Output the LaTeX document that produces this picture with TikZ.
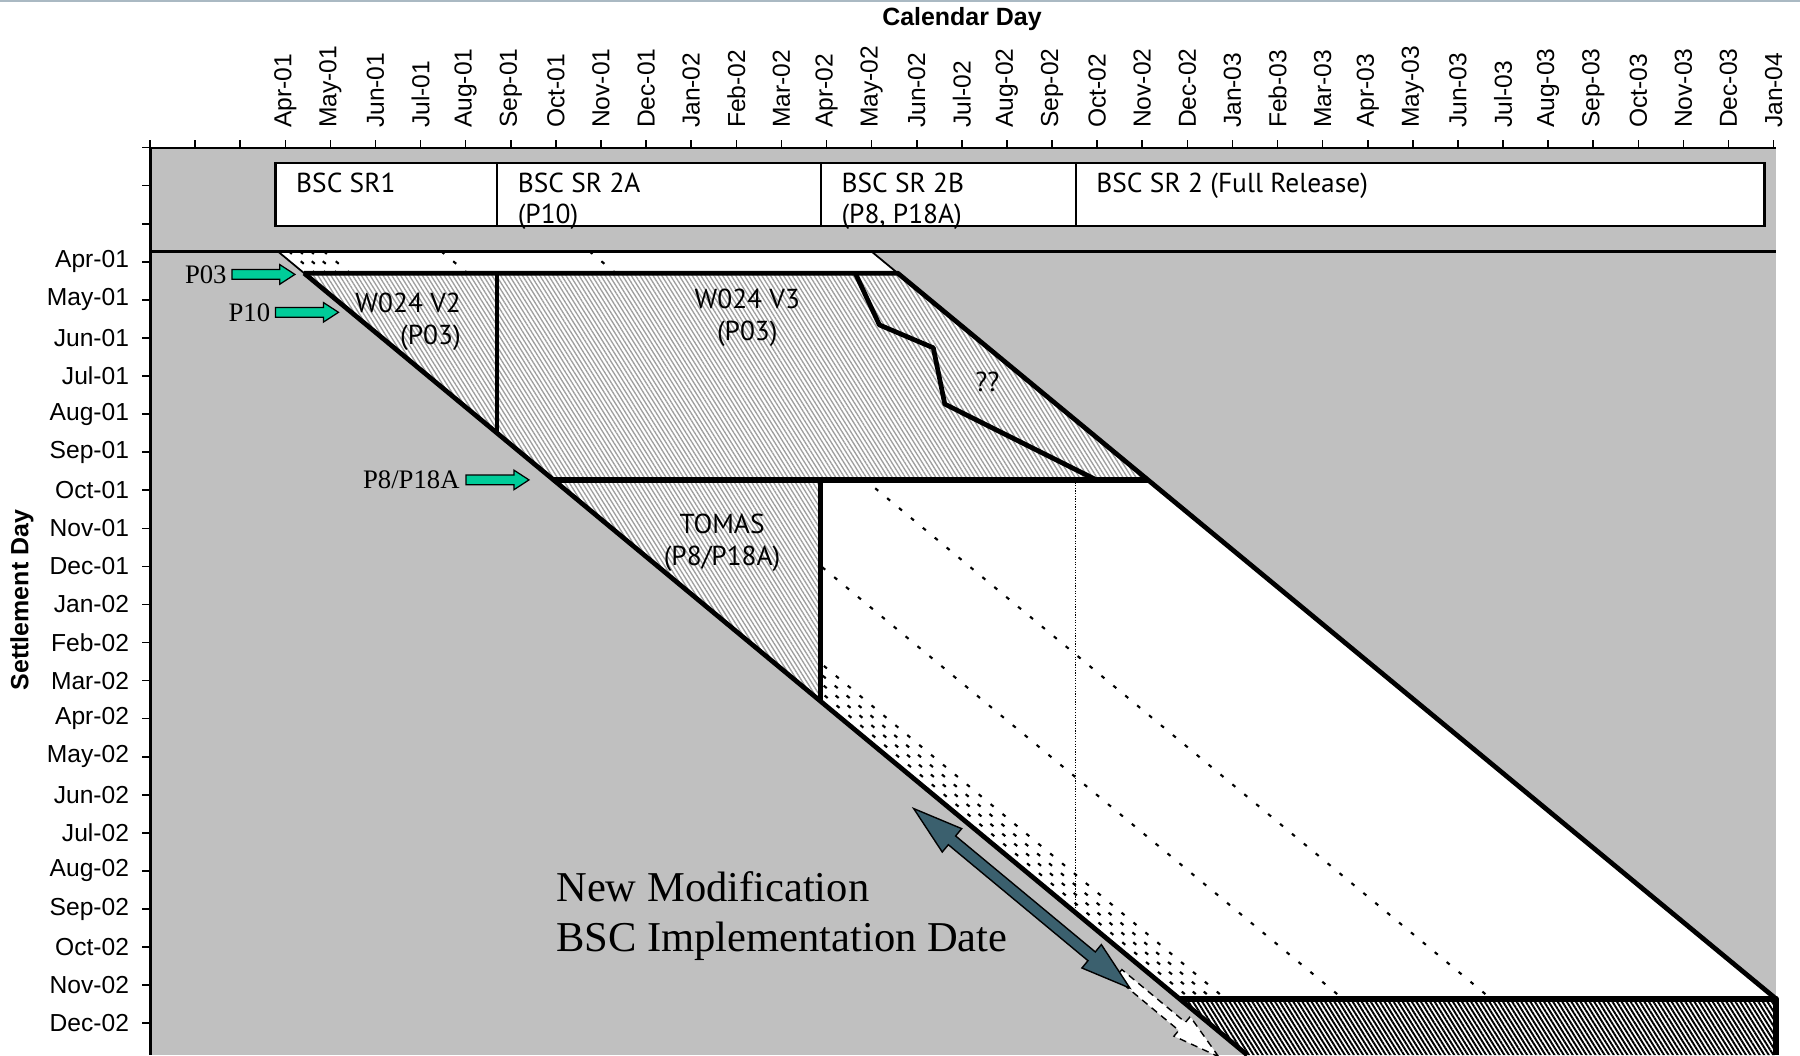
\documentclass[tikz,border=0pt]{standalone}
\usepackage{fontspec}
\setmainfont{Liberation Serif}
\setsansfont{Liberation Sans}
\newfontfamily\boxfont{PT Sans}
\usetikzlibrary{shapes.arrows,positioning,patterns.meta}

\definecolor{plotgray}{RGB}{192,192,192}
\definecolor{mintgreen}{RGB}{0,204,153}
\definecolor{slateblue}{RGB}{59,96,110}
\definecolor{framegray}{RGB}{170,185,195}

\tikzset{
  axislbl/.style={font=\sffamily\fontsize{7}{8.4}\selectfont, inner sep=0pt},
  axistitle/.style={font=\sffamily\bfseries\fontsize{7.1}{8.5}\selectfont, inner sep=0pt},
  hdrbox/.style={draw, fill=white, line width=0.6pt, minimum height=0.632cm, anchor=north west, outer sep=0pt, inner sep=0pt},
  boxlbl/.style={font=\boxfont\fontsize{7.8}{8.9}\selectfont, inner sep=0pt, align=left, anchor=north west},
  regionlbl/.style={font=\boxfont\fontsize{7.8}{9.1}\selectfont, inner sep=0pt},
  ptlbl/.style={font=\fontsize{7.6}{9}\selectfont, inner sep=0pt, anchor=east},
  bigtext/.style={font=\fontsize{12.1}{14.4}\selectfont, inner sep=0pt, align=left},
  bandline/.style={line width=1.35pt, line join=round},
  heavyline/.style={line width=1.7pt, line join=round},
  dotline/.style={line width=0.6pt, dash pattern=on 1.1pt off 3.3pt},
  finedots/.style={line width=0.35pt, dash pattern=on 0.35pt off 0.4pt},
  lighthatch/.style={fill=white, postaction={pattern={Lines[angle=122,distance=1.05pt,line width=0.38pt]}, pattern color=black!38}},
  darkhatch/.style={fill=white, postaction={pattern={Lines[angle=122,distance=1.1pt,line width=0.55pt]}, pattern color=black}},
  greenarr/.style={single arrow, draw=black, line width=0.35pt, fill=mintgreen, inner xsep=0pt, inner ysep=0.042cm,
    single arrow head extend=0.05cm, single arrow tip angle=66, minimum height=0.63cm, outer sep=0pt},
  shiftarrow/.style={double arrow, draw=black, line width=0.4pt, fill=slateblue, inner xsep=0pt, inner ysep=0.05cm,
    double arrow head extend=0.095cm, double arrow tip angle=34, minimum height=2.81cm, outer sep=0pt},
  ghostarrow/.style={single arrow, draw=black, line width=0.4pt, dash pattern=on 2pt off 1.5pt, fill=white, inner xsep=0pt,
    inner ysep=0.045cm, single arrow head extend=0.075cm, single arrow tip angle=30, minimum height=1.3cm, outer sep=0pt}
}

\begin{document}
\begin{tikzpicture}[x=1cm,y=-1cm]
    \useasboundingbox (0,0) rectangle (18,10.55);

    % frame line
    \draw[framegray, line width=0.7pt] (0,0.012) -- (18,0.012);

    % plot area
    \fill[plotgray] (1.504,1.481) rectangle (17.76,10.55);

    % release boxes
    \node[hdrbox, minimum width=2.216cm] (sr1) at (2.755,1.630) {};
    \node[hdrbox, minimum width=3.237cm] (sr2a) at (sr1.north east) {};
    \node[hdrbox, minimum width=2.549cm] (sr2b) at (sr2a.north east) {};
    \node[hdrbox, minimum width=6.888cm] (sr2) at (sr2b.north east) {};
    \node[boxlbl] (sr1lbl) at ([shift={(0.2,0.09)}]sr1.north west) {BSC SR1};
    \node[boxlbl] (sr2albl) at ([shift={(0.2,0.09)}]sr2a.north west) {BSC SR 2A\\(P10)};
    \node[boxlbl] (sr2blbl) at ([shift={(0.2,0.09)}]sr2b.north west) {BSC SR 2B\\(P8, P18A)};
    \node[boxlbl] (sr2lbl) at ([shift={(0.2,0.09)}]sr2.north west) {BSC SR 2 (Full Release)};

    % white band between the two diagonals
    \fill[white] (2.779,2.514) -- (8.714,2.514) -- (17.76,9.988) -- (11.795,9.988) -- cycle;

    % dotted runs parallel to the diagonal
    \foreach \o in {0.11,0.22,0.33,0.46,1.634,3.116}
        \draw[dotline] ({2.779+\o},2.514) -- ({11.795+\o},9.988);
    \draw[finedots] (10.757,4.799) -- (10.757,9.128);

    % hatched areas
    \path[lighthatch] (3.042,2.732) -- (4.971,2.732) -- (4.971,4.331) -- cycle;
    \path[lighthatch] (4.971,2.732) -- (8.978,2.732) -- (11.48,4.799) -- (5.535,4.799) -- (4.971,4.331) -- cycle;
    \path[lighthatch] (5.535,4.799) -- (8.208,4.799) -- (8.208,7.015) -- cycle;
    \path[darkhatch] (11.795,9.988) -- (17.76,9.988) -- (17.76,10.55) -- (12.473,10.55) -- cycle;

    % outlines
    \draw[line width=0.7pt] (1.504,2.514) -- (17.76,2.514);
    \draw[line width=0.5pt] (2.779,2.514) -- (3.042,2.732);
    \draw[line width=0.5pt] (8.714,2.514) -- (8.978,2.732);
    \draw[bandline] (3.042,2.732) -- (8.978,2.732) -- (17.76,9.988);
    \draw[bandline] (3.042,2.732) -- (12.473,10.55);
    \draw[bandline] (4.971,2.732) -- (4.971,4.331);
    \draw[heavyline] (5.535,4.799) -- (11.48,4.799);
    \draw[bandline] (8.208,4.799) -- (8.208,7.015);
    \draw[bandline] (8.553,2.732) -- (8.794,3.249) -- (9.333,3.478) -- (9.448,4.041) -- (10.963,4.799);
    \draw[heavyline] (11.795,9.988) -- (17.76,9.988) -- (17.76,10.55);

    % axes
    \draw[line width=0.6pt] (1.504,1.481) -- (17.76,1.481);
    \draw[line width=0.8pt] (1.504,1.481) -- (1.504,10.55);
    \foreach \m in {-3,...,33}
        \draw[line width=0.45pt] ({2.853+0.451*\m},1.481) -- ++(0,-0.08);
    \foreach \s in {-3,...,20}
        \draw[line width=0.45pt] (1.504,{2.618+0.3807*\s}) -- ++(-0.08,0);
    \foreach \lab [count=\i from 0] in {Apr-01,May-01,Jun-01,Jul-01,Aug-01,Sep-01,Oct-01,Nov-01,Dec-01,
        Jan-02,Feb-02,Mar-02,Apr-02,May-02,Jun-02,Jul-02,Aug-02,Sep-02,Oct-02,Nov-02,Dec-02,
        Jan-03,Feb-03,Mar-03,Apr-03,May-03,Jun-03,Jul-03,Aug-03,Sep-03,Oct-03,Nov-03,Dec-03,Jan-04}
        \node[axislbl, rotate=90, anchor=west] at ({2.853+0.451*\i},1.286) {\lab};
    \foreach \lab [count=\i from 0] in {Apr-01,May-01,Jun-01,Jul-01,Aug-01,Sep-01,Oct-01,Nov-01,Dec-01,
        Jan-02,Feb-02,Mar-02,Apr-02,May-02,Jun-02,Jul-02,Aug-02,Sep-02,Oct-02,Nov-02,Dec-02}
        \node[axislbl, anchor=east] at (1.297,{2.618+0.3807*\i}) {\lab};
    \node[axistitle] (caltitle) at (9.62,0.195) {Calendar Day};
    \node[axistitle, rotate=90] (settitle) at (0.22,6.0) {Settlement Day};

    % area labels
    \node[regionlbl, align=right, anchor=east] (v2lbl) at (4.615,3.215) {W024 V2\\(P03)};
    \node[regionlbl, align=center] (v3lbl) at (7.473,3.18) {W024 V3\\(P03)};
    \node[regionlbl] (qlbl) at (9.873,3.823) {??};
    \node[regionlbl, align=center] (tomaslbl) at (7.221,5.43) {TOMAS\\(P8/P18A)};

    % modification arrows
    \node[ptlbl] (p03) at (2.273,2.744) {P03};
    \node[greenarr, right=0.046cm of p03] (p03arr) {};
    \node[ptlbl] (p10) at (2.709,3.123) {P10};
    \node[greenarr, right=0.046cm of p10] (p10arr) {};
    \node[ptlbl] (p8) at (4.603,4.799) {P8/P18A};
    \node[greenarr, right=0.057cm of p8] (p8arr) {};

    % implementation date shift
    \node[ghostarrow, rotate=-39.7] (ghost) at (11.611,10.089) {};
    \node[shiftarrow, rotate=-39.7] (shiftarr) at (10.218,8.983) {};
    \node[bigtext, anchor=west] (newmod) at (5.556,9.161) {New Modification\\BSC Implementation Date};
\end{tikzpicture}
\end{document}
